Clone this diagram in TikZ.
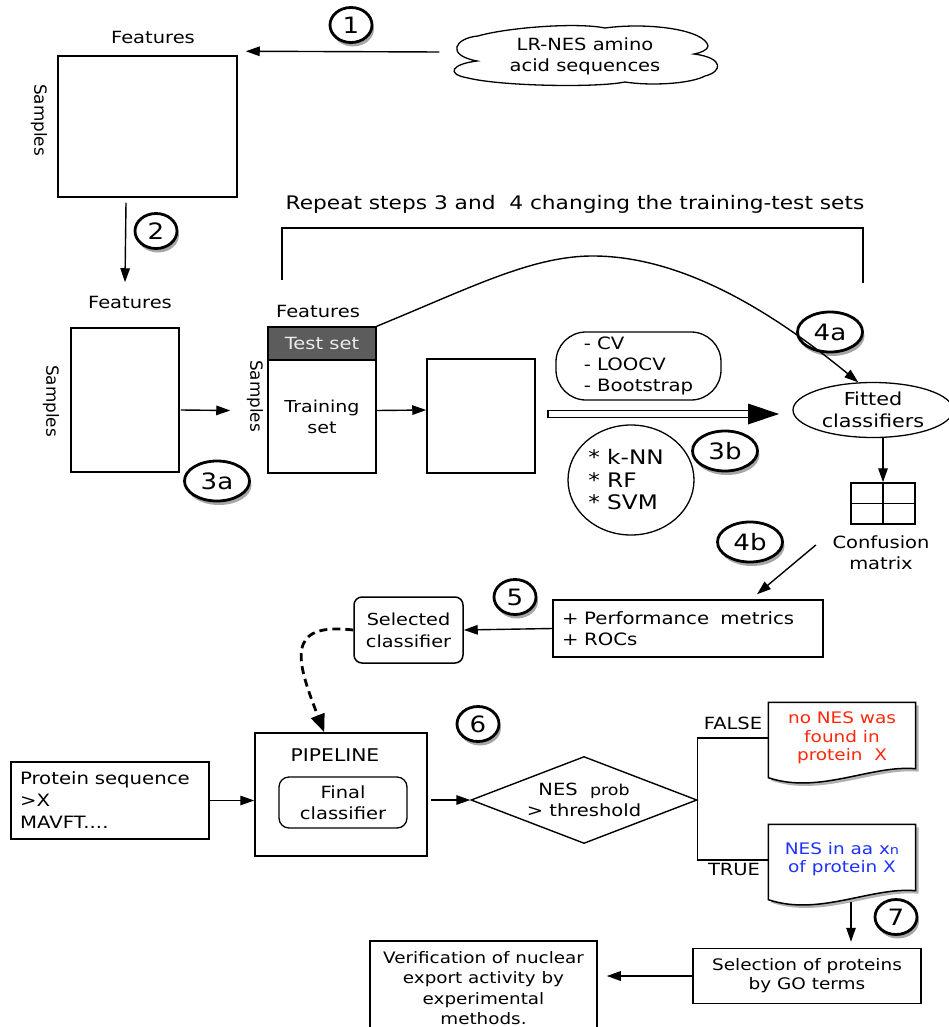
\documentclass[tikz,border=0pt]{standalone}
\usepackage{fontspec}
\setmainfont{DejaVu Sans}[FakeStretch=1.16]
\newfontfamily\plainfont{DejaVu Sans}
\usetikzlibrary{shapes.geometric,shapes.symbols,shadows,arrows.meta,calc}
\definecolor{testgray}{HTML}{5C5C5C}
\definecolor{nored}{RGB}{255,40,10}
\definecolor{yesblue}{RGB}{30,50,255}
\newcommand{\fs}[2]{\fontsize{#1}{#2}\selectfont}
\begin{document}
\begin{tikzpicture}[x=1pt,y=-1pt,
  font=\fs{16.8}{21},
  line width=1.4pt,
  arr/.style={-{Triangle[length=14pt,width=9.5pt]}},
  box/.style={draw, line width=1.5pt, inner sep=0pt},
  lbl/.style={inner sep=0pt, align=center},
  vlbl/.style={inner sep=0pt, rotate=-90, font=\plainfont\fs{16.8}{21}},
  stepl/.style={ellipse, draw, line width=2.8pt, fill=white, inner sep=0pt,
     minimum width=42pt, minimum height=35pt, font=\fs{22.5}{22},
     drop shadow={shadow xshift=2pt, shadow yshift=-4pt, fill=black, opacity=0.35}},
  stepw/.style={stepl, minimum width=65pt, minimum height=40pt},
  docbox/.style={inner sep=0pt, minimum width=146pt, minimum height=70pt, align=center,
     font=\fs{15.9}{18.5}},
  docshape/.style={draw, line width=1.5pt, fill=white,
     drop shadow={shadow xshift=3pt, shadow yshift=-3pt, fill=black, opacity=0.3}}
]
\useasboundingbox (0,0) rectangle (949,1027);

% ---- step 1 ----
\node[box, minimum width=179pt, minimum height=141pt] (m1) at (147.5,126.5) {};
\node[lbl] (feat1) at (153,37) {Features};
\node[vlbl] (samp1) at (39,120) {Samples};
\draw[line width=1.3pt]
  (477,61) .. controls (445,55) and (455,38) .. (478,36)
  .. controls (505,28) and (575,22) .. (605,28)
  .. controls (650,22) and (705,30) .. (708,46)
  .. controls (708,50) and (700,53) .. (694,54)
  .. controls (725,58) and (722,72) .. (705,76)
  .. controls (690,84) and (650,86) .. (625,82)
  .. controls (595,88) and (500,86) .. (468,78)
  .. controls (445,74) and (452,64) .. (477,61) -- cycle;
\node[inner sep=0pt, minimum width=266pt, minimum height=63pt, align=center] (cloud) at (585,56)
      {LR-NES amino\\acid sequences};
\node[stepl] (s1) at (351,25) {1};
\draw[arr] ($(cloud.west)+(-12,-4)$) -- ($(m1.north east)+(8,-4)$);

% ---- step 2 ----
\node[stepl] (s2) at (156,231) {2};
\node[box, minimum width=108pt, minimum height=144pt] (m2) at (125,400) {};
\node[lbl] (feat2) at (130,302) {Features};
\node[vlbl] (samp2) at (51,401) {Samples};
\draw[arr] ($(m1.south)+(-21.5,5)$) -- ($(m2.north)+(0,-45)$);

% ---- step 3a ----
\node[box, fill=testgray, minimum width=108pt, minimum height=33pt, text=white!92!black] (test) at (322,343.5) {Test set};
\node[box, minimum width=108pt, minimum height=113pt, align=center, font=\fs{16.4}{21}] (train) at (322,416.5) {Training\\set};
\node[lbl] (feat3) at (318,311) {Features};
\node[vlbl] (samp3) at (255,396) {Samples};
\node[box, minimum width=108pt, minimum height=114pt] (m3) at (481,416) {};
\node[stepw] (s3a) at (217,481) {3a};
\draw[arr] ($(m2.east)+(1,10)$) -- ($(train.west)+(-37,-6)$);
\draw[arr] ($(train.east)+(0,-6)$) -- ($(m3.west)+(0,-6)$);

% ---- repeat bracket ----
\node[lbl, font=\fs{18.7}{22}] (rep) at (575,204) {Repeat steps 3 and~ 4 changing the training-test sets};
\coordinate (bl) at (282,280);
\coordinate (br) at (863,283);
\draw (bl) -- (282,228) -- (863,228) -- (br);

% ---- step 3b ----
\node[draw, line width=1.3pt, rounded corners=30pt, minimum width=165pt, minimum height=68pt,
      align=left, inner sep=0pt, font=\fs{17}{21}] (cv) at (638.5,366) {- CV\\- LOOCV\\- Bootstrap};
\node[ellipse, draw, line width=1.3pt, minimum width=126pt, minimum height=110pt, inner sep=0pt] (alg) at (631,480) {};
\node[lbl, align=left, font=\fs{20}{22.5}] (algtext) at (626,480) {* k-NN\\* RF\\* SVM};
\node[stepw] (s3b) at (725,451) {3b};
\draw[line width=1.4pt] (548,410.5) rectangle (749,417.5);
\fill (748,403.5) -- (779,414) -- (748,424.5) -- cycle;

% ---- step 4 ----
\node[ellipse, draw, line width=1.3pt, minimum width=160pt, minimum height=55pt,
      inner sep=0pt, align=center, font=\fs{17.9}{22}] (fitted) at (873,410) {Fitted\\classifiers};
\node[stepw] (s4a) at (830,332) {4a};
\draw[arr] (test.north east) .. controls (470,288) and (530,257) .. (590,256)
   .. controls (680,255) and (770,310) .. (fitted.118);
\node[box, minimum width=64pt, minimum height=41pt] (cm) at (883,503.5) {};
\draw[line width=1.5pt] (cm.north) -- (cm.south) (cm.west) -- (cm.east);
\draw[arr] (fitted.south -| cm.north) -- (cm.north);
\node[lbl] (cmlabel) at (881,553) {Confusion\\matrix};
\node[stepw] (s4b) at (750,542) {4b};
\node[box, minimum height=57pt, text width=252pt, inner xsep=9pt, align=left, font=\fs{17}{21}] (perf) at (688,628.5)
   {+ Performance~ metrics\\+ ROCs};
\draw[arr] ($(cmlabel.west)+(-16,-8)$) -- ($(perf.north)+(69,-5)$);

% ---- step 5 ----
\node[box, rounded corners=8pt, minimum width=109pt, minimum height=66pt, align=center, font=\fs{16.6}{22}] (sel) at (408.5,630)
   {Selected\\classifier};
\node[stepl] (s5) at (515,597) {5};
\draw[arr] (perf.west) -- (sel.east);

% ---- step 6 ----
\node[box, minimum width=172pt, minimum height=123pt] (pipe) at (341,794.5) {};
\node[lbl, font=\fs{17.5}{21}] (pipelabel) at (335,755) {PIPELINE};
\node[draw, line width=1.3pt, rounded corners=10pt, minimum width=128pt, minimum height=51pt,
      inner sep=0pt, align=center] (final) at (343,802.5) {Final\\classifier};
\draw[-{Triangle[length=18pt,width=14pt]}, line width=2.8pt, dash pattern=on 8pt off 5pt]
   (sel.west) .. controls (285,622) and (296,660) .. ($(pipe.north west)+(70,0)$);
\node[box, minimum height=77pt, text width=180pt, inner xsep=9pt, align=left, font=\fs{17}{22}] (prot) at (110,800.5)
   {Protein sequence\\{>}X\\MAVFT....};
\draw[arr] (prot.east) -- (prot.east -| pipe.west);
\node[stepl] (s6) at (478,724) {6};
\node[diamond, draw, line width=1.4pt, minimum width=226pt, minimum height=87pt, aspect=2.6,
      inner sep=0pt, align=center] (dia) at (584,800)
   {NES~ {\fs{15}{16}prob}\\{>} threshold};
\draw[arr, shorten <=3pt] (pipe.east |- dia.west) -- (dia.west);

% documents
\node[docbox] (docF) at (842,738) {};
\draw[docshape] (docF.north west) -- (docF.north east) -- ($(docF.south east)+(0,-5)$)
   .. controls +(-45,-4) and +(51,17) .. ($(docF.south west)+(0,4)$) -- cycle;
\node[docbox, text=nored] at (docF.center) {no NES was\\found in\\protein~ X};
\node[docbox] (docT) at (842,860) {};
\draw[docshape] (docT.north west) -- (docT.north east) -- ($(docT.south east)+(0,-5)$)
   .. controls +(-45,-4) and +(51,17) .. ($(docT.south west)+(0,4)$) -- cycle;
\node[docbox, text=yesblue] at ($(docT.center)+(0,-1)$) {NES in aa x{\fs{12.5}{12}n}\\of protein X};
\draw (dia.east) |- (docF.west);
\draw (dia.east) |- (docT.west);
\node[lbl] (flab) at (733,723) {FALSE};
\node[lbl] (tlab) at (734,869) {TRUE};

% ---- step 7 ----
\node[box, minimum width=228pt, minimum height=55pt, align=center, font=\fs{15.9}{19}] (selp) at (807,976)
   {Selection of proteins\\by GO terms};
\node[stepl] (s7) at (896,917) {7};
\draw[arr] ($(docT.south)+(9,6)$) -- ($(selp.north)+(44,-6)$);
\node[box, minimum width=227pt, minimum height=94pt, align=center,
      font=\fs{15.8}{20.2}] (verif) at (483.5,988)
   {Verification of nuclear\\export activity by\\experimental\\methods.};
\draw[arr] (selp.west) -- ($(selp.west -| verif.east)+(9,0)$);
\end{tikzpicture}
\end{document}
